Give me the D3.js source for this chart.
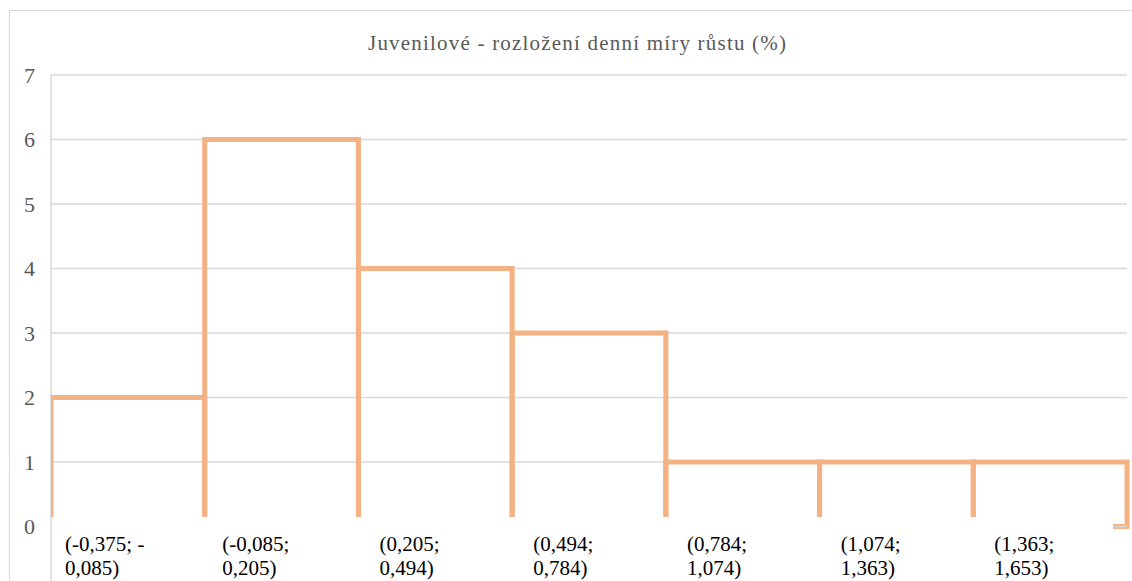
<!DOCTYPE html>
<html><head><meta charset="utf-8">
<script src="https://cdn.jsdelivr.net/npm/d3@7/dist/d3.min.js"></script>
<style>body{margin:0;background:#fff;}svg{display:block;}</style>
</head><body>
<svg id="c" width="1132" height="581"></svg>
<script>
const title = "Juvenilové - rozložení denní míry růstu (%)";
const categories = ["(-0,375; -0,085)","(-0,085; 0,205)","(0,205; 0,494)","(0,494; 0,784)","(0,784; 1,074)","(1,074; 1,363)","(1,363; 1,653)"];
const labelLines = [["(-0,375; -","0,085)"],["(-0,085;","0,205)"],["(0,205;","0,494)"],["(0,494;","0,784)"],["(0,784;","1,074)"],["(1,074;","1,363)"],["(1,363;","1,653)"]];
const counts = [2,6,4,3,1,1,1];
const yTicks = [0,1,2,3,4,5,6,7];

const FONT = "Liberation Serif";
const svg = d3.select("#c");
const L = 51, R = 1127, T = 75, B = 526.5, clipB = 517;
const x = d3.scaleBand().domain(categories).range([L, R]).padding(0);
const y = d3.scaleLinear().domain([0, 7]).range([B, T]);

// outer border
svg.append("rect").attr("x",9.5).attr("y",10.5).attr("width",1140).attr("height",600)
  .attr("fill","none").attr("stroke","#d9d9d9").attr("stroke-width",1);

// title
svg.append("text").attr("x",577).attr("y",50).attr("text-anchor","middle")
  .style("font-family",FONT).attr("font-size",21).attr("fill","#595959")
  .attr("textLength",418).attr("lengthAdjust","spacing")
  .text(title);

// gridlines
svg.append("g").selectAll("line").data(yTicks.filter(d=>d>0)).join("line")
  .attr("x1",L).attr("x2",R).attr("y1",d=>y(d)).attr("y2",d=>y(d))
  .attr("stroke","#d9d9d9").attr("stroke-width",1.5);
svg.append("line").attr("x1",L).attr("x2",L).attr("y1",T).attr("y2",581)
  .attr("stroke","#d9d9d9").attr("stroke-width",1.5);

// y tick labels
svg.append("g").selectAll("text").data(yTicks).join("text")
  .attr("x",35).attr("y",d=>y(d)).attr("dy","0.35em").attr("text-anchor","end")
  .style("font-family",FONT).attr("font-size",22).attr("fill","#595959")
  .text(d=>d);

// clip
svg.append("clipPath").attr("id","pc").append("rect")
  .attr("x",L).attr("y",0).attr("width",R-L+10).attr("height",clipB);

// bars as open outlines
const g = svg.append("g").attr("clip-path","url(#pc)");
g.selectAll("path").data(counts).join("path")
  .attr("d",(d,i)=>{
    const x0 = x(categories[i]), x1 = x0 + x.bandwidth();
    return `M${x0},${B} V${y(d)} H${x1} V${B}`;
  })
  .attr("fill","none").attr("stroke","#F4B183").attr("stroke-width",5).attr("stroke-linejoin","miter");

// right end stub
svg.append("path").attr("d",`M${R},${clipB} V${B} H${R-14}`)
  .attr("fill","none").attr("stroke","#F4B183").attr("stroke-width",5);
svg.append("line").attr("x1",R-14).attr("x2",R).attr("y1",B).attr("y2",B)
  .attr("stroke","#d9d9d9").attr("stroke-width",1.5);

// x labels
const xl = svg.append("g");
categories.forEach((c,i)=>{
  const tmp = xl.append("text").style("font-family",FONT).attr("font-size",21).text(c);
  const w = tmp.node().getComputedTextLength();
  tmp.remove();
  const cx = x(c) + x.bandwidth()/2;
  const sx = cx - w/2 + 4;
  const t = xl.append("text").style("font-family",FONT).attr("font-size",21).attr("fill","#000")
    .attr("x", sx).attr("y", 551);
  labelLines[i].forEach((ln,j)=>{
    t.append("tspan").attr("x", sx).attr("dy", j===0?0:24).text(ln);
  });
});
</script>
</body></html>
